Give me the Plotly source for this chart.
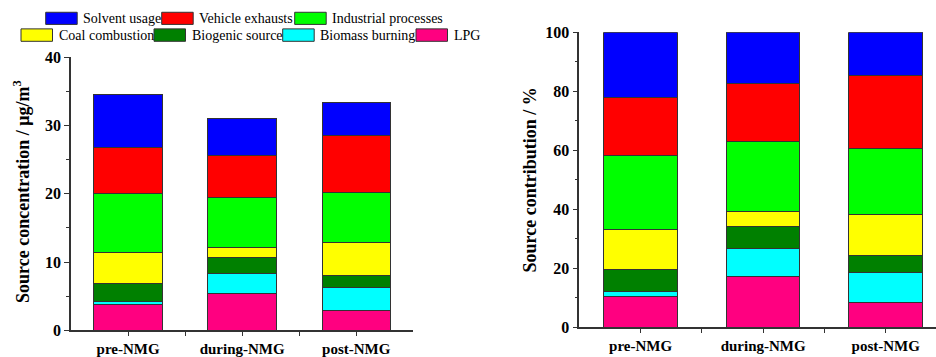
import plotly.graph_objects as go

# Sampling periods
periods = ["pre-NMG", "during-NMG", "post-NMG"]

# Source names (stacking order from bottom to top)
sources = ["LPG", "Biomass burning", "Biogenic source", "Coal combustion",
           "Industrial processes", "Vehicle exhausts", "Solvent usage"]
colors = ["#FF0080", "#00FFFF", "#008000", "#FFFF00", "#00FF00", "#FF0000", "#0000FF"]

# Source concentrations (µg/m³) per period
lpg_conc = [3.73, 5.43, 2.91]
biomass_conc = [0.49, 2.91, 3.34]
biogenic_conc = [2.57, 2.33, 1.85]
coal_conc = [4.65, 1.50, 4.70]
industrial_conc = [8.63, 7.32, 7.42]
vehicle_conc = [6.74, 6.16, 8.29]
solvent_conc = [7.71, 5.33, 4.85]

# Source contributions (%) per period
lpg_pct = [10.4, 17.4, 8.6]
biomass_pct = [1.6, 9.2, 9.9]
biogenic_pct = [7.5, 7.7, 5.7]
coal_pct = [13.5, 5.0, 14.2]
industrial_pct = [25.1, 23.6, 22.1]
vehicle_pct = [19.6, 19.8, 24.9]
solvent_pct = [22.3, 17.3, 14.6]

conc_series = [lpg_conc, biomass_conc, biogenic_conc, coal_conc,
               industrial_conc, vehicle_conc, solvent_conc]
pct_series = [lpg_pct, biomass_pct, biogenic_pct, coal_pct,
              industrial_pct, vehicle_pct, solvent_pct]

W, H = 936, 357
# The page body keeps an 8 px margin above and below the figure,
# leaving a drawing area 341 px tall that starts 8 px from the top.
TOP_OFFSET, DRAW_H = 8, 341
FONT = "Liberation Serif"
AXIS_COLOR = "#333333"


def px_x(v):
    return v / W


def px_y(v):
    return (TOP_OFFSET + DRAW_H - v) / DRAW_H


fig = go.Figure()
xpos = list(range(len(periods)))

for name, col, vals in zip(sources, colors, conc_series):
    fig.add_trace(go.Bar(x=xpos, y=vals, name=name, marker_color=col,
                         marker_line=dict(color="#333333", width=1),
                         width=0.6, xaxis="x", yaxis="y", showlegend=False))

for name, col, vals in zip(sources, colors, pct_series):
    fig.add_trace(go.Bar(x=xpos, y=vals, name=name, marker_color=col,
                         marker_line=dict(color="#333333", width=1),
                         width=0.6, xaxis="x2", yaxis="y2", showlegend=False))

xaxis_common = dict(
    tickmode="array", tickvals=xpos, ticktext=periods,
    showline=True, linecolor=AXIS_COLOR, linewidth=1.5,
    ticks="outside", ticklen=4, tickwidth=1.2, tickcolor=AXIS_COLOR,
    minor=dict(tickmode="array", tickvals=[0.5, 1.5], ticks="outside",
               ticklen=4, tickwidth=1.2, tickcolor=AXIS_COLOR),
    showgrid=False, zeroline=False,
    tickfont=dict(family=FONT, size=15, color="black", weight="bold"),
    fixedrange=True,
)
yaxis_common = dict(
    showline=True, linecolor=AXIS_COLOR, linewidth=1.5,
    ticks="outside", ticklen=5, tickwidth=1.2, tickcolor=AXIS_COLOR,
    showgrid=False, zeroline=False,
    tickfont=dict(family=FONT, size=16, color="black", weight="bold"),
    fixedrange=True,
)

fig.update_layout(
    width=W, height=H,
    margin=dict(l=0, r=0, t=0, b=0),
    paper_bgcolor="white", plot_bgcolor="white",
    barmode="stack",
    font=dict(family=FONT, color="black"),
    xaxis=dict(domain=[px_x(71), px_x(413.3)], range=[-0.5, 2.5],
               anchor="y", **xaxis_common),
    yaxis=dict(domain=[px_y(332.3), px_y(57.3)], range=[0, 40],
               tickvals=[0, 10, 20, 30, 40], anchor="x",
               minor=dict(tickvals=[5, 15, 25, 35], ticks="outside", ticklen=3,
                          tickwidth=1.2, tickcolor=AXIS_COLOR),
               **yaxis_common),
    xaxis2=dict(domain=[px_x(579.3), 1.0], range=[-0.5, 2.41],
                anchor="y2", **xaxis_common),
    yaxis2=dict(domain=[px_y(329.3), px_y(32.3)], range=[0, 100],
                tickvals=[0, 20, 40, 60, 80, 100], anchor="x2",
                minor=dict(tickvals=[10, 30, 50, 70, 90], ticks="outside", ticklen=3,
                           tickwidth=1.2, tickcolor=AXIS_COLOR),
                **yaxis_common),
    showlegend=False,
)

# Axis titles
fig.add_annotation(text="<b>Source concentration / μg/m<sup>3</sup></b>",
                   x=px_x(22), y=px_y(193), xref="paper", yref="paper",
                   textangle=-90, showarrow=False, xanchor="center", yanchor="middle",
                   font=dict(family=FONT, size=18, color="black"))
fig.add_annotation(text="<b>Source contribution / %</b>",
                   x=px_x(529.5), y=px_y(181), xref="paper", yref="paper",
                   textangle=-90, showarrow=False, xanchor="center", yanchor="middle",
                   font=dict(family=FONT, size=18, color="black"))

# Legend drawn as swatches and labels above the left panel
legend_rows = [
    (12.3, 24.5, [("Solvent usage", 45.7), ("Vehicle exhausts", 161.7),
                  ("Industrial processes", 294.7)]),
    (29.0, 41.5, [("Coal combustion", 21.0), ("Biogenic source", 154.0),
                  ("Biomass burning", 282.7), ("LPG", 416.0)]),
]
SWATCH_W = 31.5
color_of = dict(zip(sources, colors))
for top, bottom, items in legend_rows:
    for label, x0 in items:
        fig.add_shape(type="rect", xref="paper", yref="paper",
                      x0=px_x(x0), x1=px_x(x0 + SWATCH_W),
                      y0=px_y(bottom), y1=px_y(top),
                      fillcolor=color_of[label],
                      line=dict(color="#333333", width=1))
        fig.add_annotation(text=label, x=px_x(x0 + SWATCH_W + 4),
                           y=px_y((top + bottom) / 2), xref="paper", yref="paper",
                           showarrow=False, xanchor="left", yanchor="middle",
                           font=dict(family=FONT, size=14, color="black"))

fig.write_html("out.html")
